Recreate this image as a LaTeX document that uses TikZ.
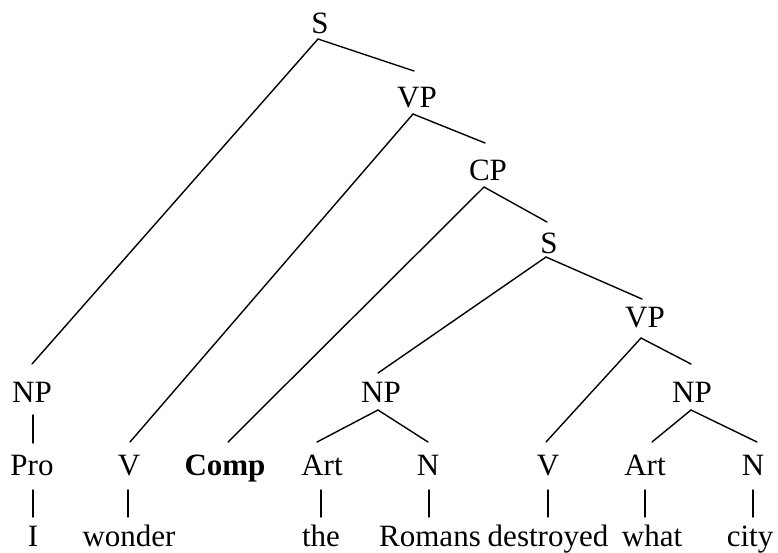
\documentclass[tikz,border=0pt]{standalone}
\usepackage{fontspec}
\setmainfont{Liberation Serif}
\begin{document}
\begin{tikzpicture}[x=1pt,y=-1pt,
  lbl/.style={inner sep=0pt,outer sep=0pt,anchor=base,font=\fontsize{31}{37}\selectfont},
  br/.style={line width=1.4pt,line cap=round}]
\useasboundingbox (0,0) rectangle (778,552);
% phrase nodes
\node[lbl] (s1)  at (320,33)  {S};
\node[lbl] (vp1) at (417,107) {VP};
\node[lbl] (cp)  at (488,180) {CP};
\node[lbl] (s2)  at (549,253) {S};
\node[lbl] (vp2) at (645,327) {VP};
\node[lbl] (np1) at (32,402)  {NP};
\node[lbl] (np2) at (381,402) {NP};
\node[lbl] (np3) at (692,402) {NP};
% category row
\node[lbl] (pro)  at (32,475)  {Pro};
\node[lbl] (v1)   at (129,475) {V};
\node[lbl] (comp) at (225,475) {\bfseries Comp};
\node[lbl] (art1) at (322,475) {Art};
\node[lbl] (n1)   at (428,475) {N};
\node[lbl] (v2)   at (548,475) {V};
\node[lbl] (art2) at (645,475) {Art};
\node[lbl] (n2)   at (753,475) {N};
% words
\node[lbl] (wi)   at (33,546)  {I};
\node[lbl] (wwon) at (129,546) {wonder};
\node[lbl] (wthe) at (321,546) {the};
\node[lbl] (wrom) at (430,546) {Romans};
\node[lbl] (wdes) at (548,546) {destroyed};
\node[lbl] (wwha) at (652,546) {what};
\node[lbl] (wcit) at (750,546) {city};
% branches
\draw[br] ([shift={(-2,6)}]s1.base) -- ([shift={(0,-38)}]np1.base);
\draw[br] ([shift={(-2,6)}]s1.base) -- ([shift={(-3,-36)}]vp1.base);
\draw[br] ([shift={(-4,7)}]vp1.base) -- ([shift={(1,-33)}]v1.base);
\draw[br] ([shift={(-4,7)}]vp1.base) -- ([shift={(-3,-37)}]cp.base);
\draw[br] ([shift={(-4,7)}]cp.base) -- ([shift={(3,-33)}]comp.base);
\draw[br] ([shift={(-4,7)}]cp.base) -- ([shift={(-2,-31)}]s2.base);
\draw[br] ([shift={(-3,4)}]s2.base) -- ([shift={(-3,-29)}]np2.base);
\draw[br] ([shift={(-3,4)}]s2.base) -- ([shift={(-3,-28)}]vp2.base);
\draw[br] ([shift={(-4,11)}]vp2.base) -- ([shift={(-2,-33)}]v2.base);
\draw[br] ([shift={(-4,11)}]vp2.base) -- ([shift={(-1,-38)}]np3.base);
\draw[br] ([shift={(-3,8)}]np2.base) -- ([shift={(-5,-33)}]art1.base);
\draw[br] ([shift={(-3,8)}]np2.base) -- ([shift={(0,-33)}]n1.base);
\draw[br] ([shift={(-1,8)}]np3.base) -- ([shift={(7,-33)}]art2.base);
\draw[br] ([shift={(-1,8)}]np3.base) -- ([shift={(4,-33)}]n2.base);
% vertical lines
\draw[br] ([shift={(1,13)}]np1.base) -- ([shift={(1,-32)}]pro.base);
\draw[br] ([shift={(1,15)}]pro.base) -- ([shift={(0,-29)}]wi.base);
\draw[br] ([shift={(-1,15)}]v1.base) -- ([shift={(-1,-29)}]wwon.base);
\draw[br] ([shift={(-1,15)}]art1.base) -- ([shift={(0,-29)}]wthe.base);
\draw[br] ([shift={(1,15)}]n1.base) -- ([shift={(-1,-29)}]wrom.base);
\draw[br] ([shift={(0,15)}]v2.base) -- ([shift={(0,-29)}]wdes.base);
\draw[br] ([shift={(0,15)}]art2.base) -- ([shift={(-7,-29)}]wwha.base);
\draw[br] ([shift={(0,15)}]n2.base) -- ([shift={(3,-29)}]wcit.base);
\end{tikzpicture}
\end{document}
